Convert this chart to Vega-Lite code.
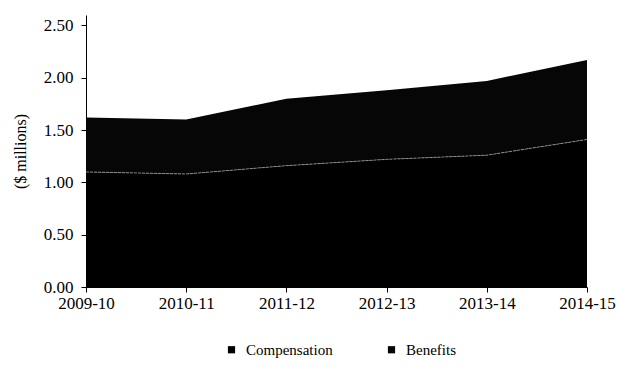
{
  "$schema": "https://vega.github.io/schema/vega-lite/v6.json",
  "width": 501,
  "height": 272,
  "autosize": {"type": "none"},
  "padding": {"left": 86, "top": 15, "right": 31, "bottom": 85},
  "background": "white",
  "config": {
    "view": {"stroke": null},
    "font": "Liberation Serif",
    "axis": {"labelFont": "Liberation Serif", "titleFont": "Liberation Serif", "labelColor": "#000", "titleColor": "#000", "domainColor": "#000", "tickColor": "#000", "grid": false},
    "legend": {"labelFont": "Liberation Serif", "labelColor": "#000"}
  },
  "data": {
    "values": [
      {"year": "2009-10", "series": "Compensation", "value": 1.10},
      {"year": "2010-11", "series": "Compensation", "value": 1.08},
      {"year": "2011-12", "series": "Compensation", "value": 1.16},
      {"year": "2012-13", "series": "Compensation", "value": 1.22},
      {"year": "2013-14", "series": "Compensation", "value": 1.26},
      {"year": "2014-15", "series": "Compensation", "value": 1.41},
      {"year": "2009-10", "series": "Benefits", "value": 0.52},
      {"year": "2010-11", "series": "Benefits", "value": 0.52},
      {"year": "2011-12", "series": "Benefits", "value": 0.64},
      {"year": "2012-13", "series": "Benefits", "value": 0.66},
      {"year": "2013-14", "series": "Benefits", "value": 0.71},
      {"year": "2014-15", "series": "Benefits", "value": 0.76}
    ]
  },
  "layer": [
    {
      "mark": {"type": "area", "interpolate": "linear"},
      "transform": [{"calculate": "datum.series === 'Compensation' ? 0 : 1", "as": "ord"}],
      "encoding": {
        "x": {"field": "year", "type": "ordinal", "scale": {"type": "point", "padding": 0},
              "axis": {"title": null, "labelAngle": 0, "labelFontSize": 17, "labelPadding": 3, "tickSize": 5, "domainWidth": 1}},
        "y": {"field": "value", "type": "quantitative", "stack": "zero",
              "scale": {"domain": [0, 2.5]},
              "axis": {"title": "($ millions)", "titleFontSize": 16, "titleFontWeight": "normal", "titlePadding": 15, "values": [0, 0.5, 1, 1.5, 2, 2.5], "format": ".2f", "labelFontSize": 17, "tickSize": 5, "labelPadding": 8}},
        "color": {"field": "series", "type": "nominal",
                  "scale": {"domain": ["Compensation", "Benefits"], "range": ["#000000", "#060606"]},
                  "legend": {"title": null, "orient": "none", "direction": "horizontal", "legendX": 138, "legendY": 327, "symbolType": "square", "symbolSize": 52, "symbolStrokeWidth": 0, "labelFontSize": 15, "columnPadding": 51, "labelOffset": 7}},
        "order": {"field": "ord", "type": "quantitative"}
      }
    },
    {
      "mark": {"type": "line", "stroke": "#a0a0a0", "strokeWidth": 0.8, "strokeDash": [3, 1]},
      "transform": [{"filter": "datum.series === 'Compensation'"}],
      "encoding": {
        "x": {"field": "year", "type": "ordinal"},
        "y": {"field": "value", "type": "quantitative", "stack": null}
      }
    }
  ]
}
